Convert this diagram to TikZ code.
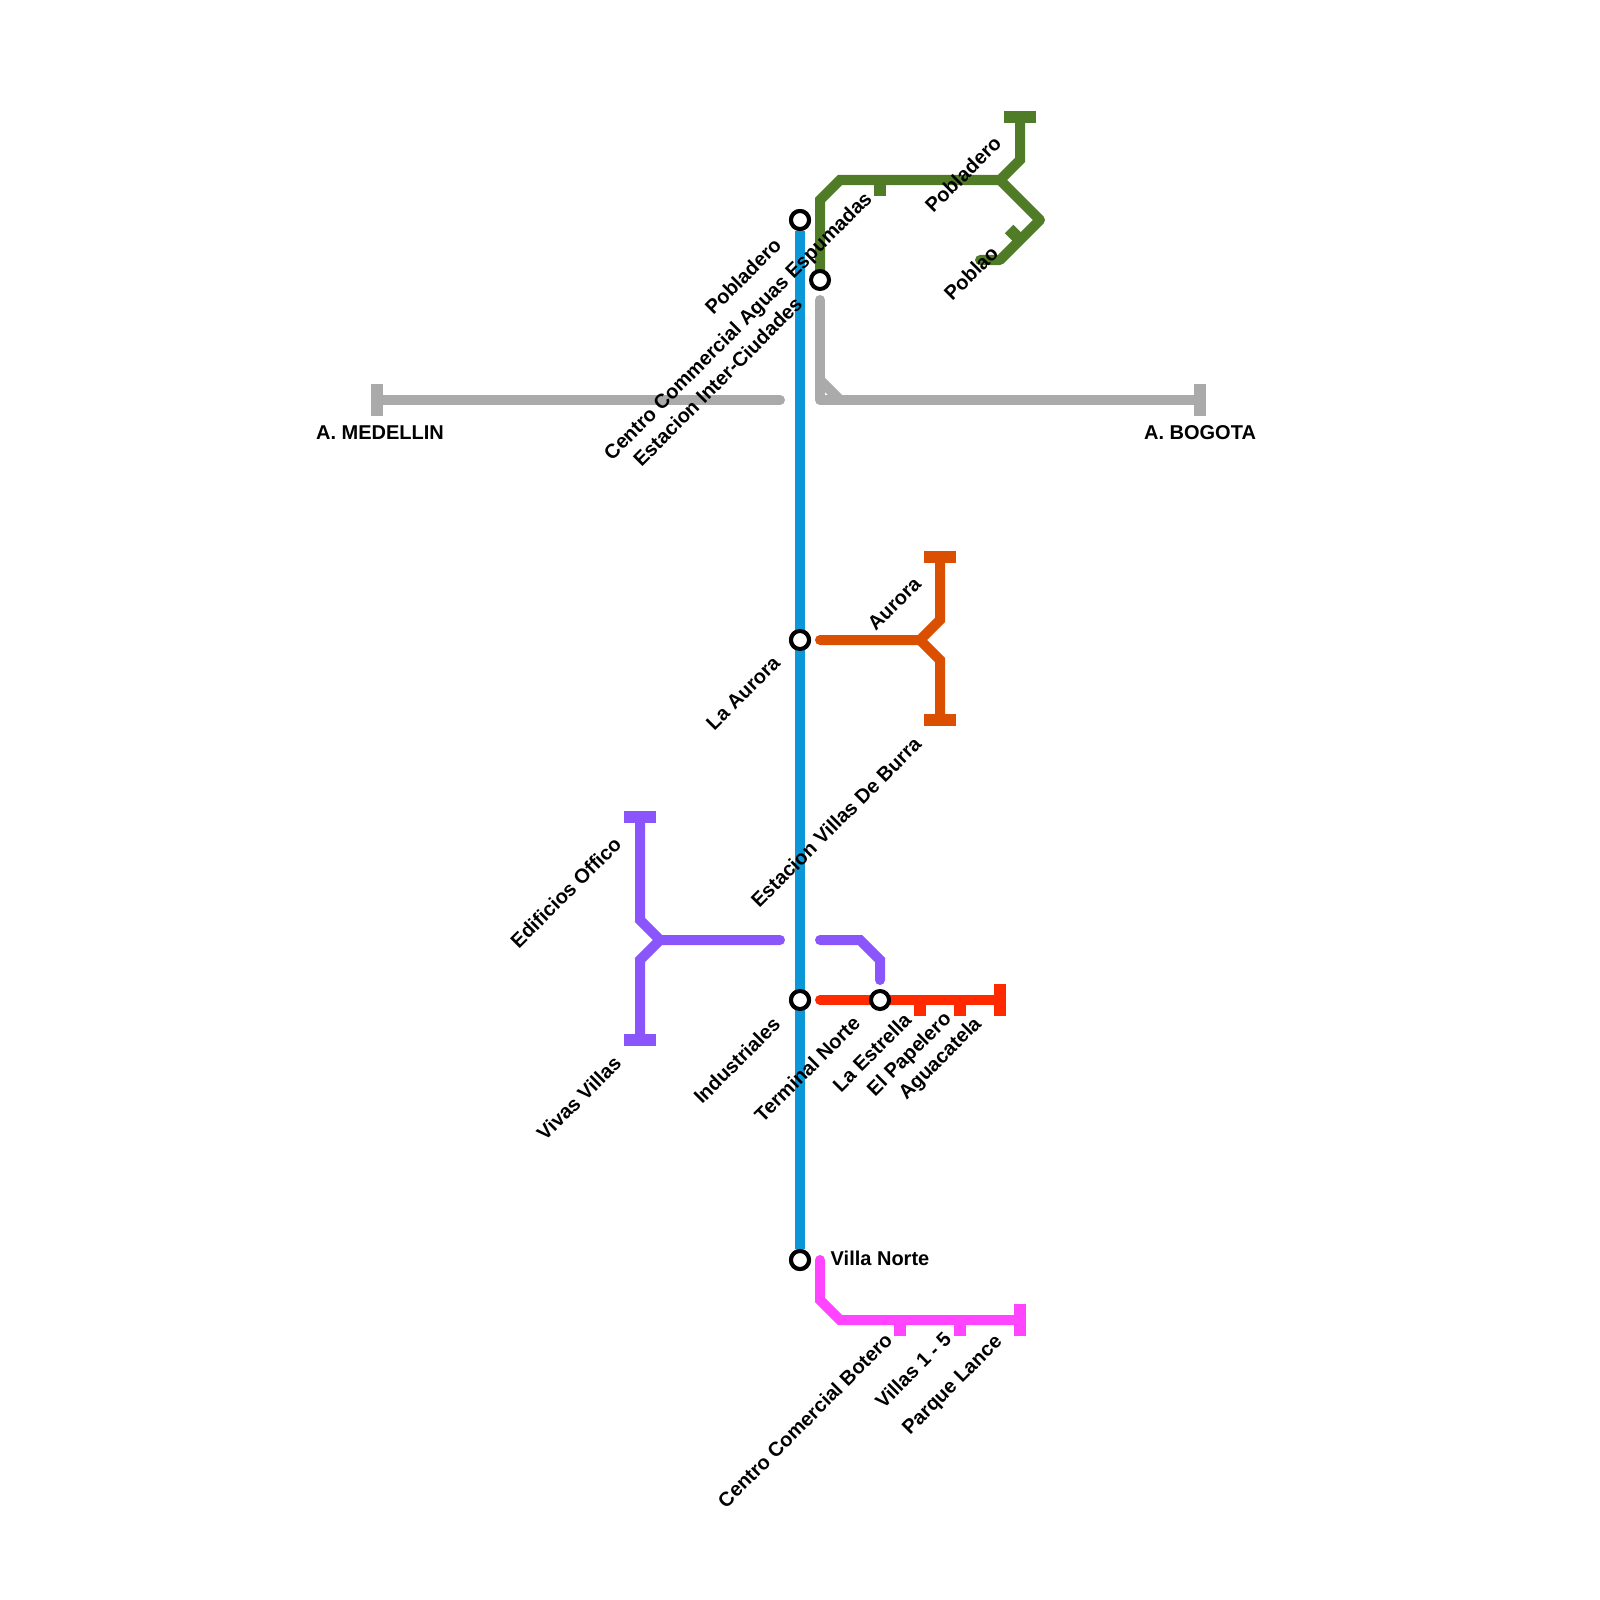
\documentclass[tikz,border=0pt]{standalone}
\usepackage{fontspec}
\setmainfont{Liberation Sans}
\definecolor{metroblue}{HTML}{0B97D8}
\definecolor{metrogray}{HTML}{AAAAAA}
\definecolor{metrogreen}{HTML}{507C28}
\definecolor{metroorange}{HTML}{DB5000}
\definecolor{metropurple}{HTML}{8A55FB}
\definecolor{metrored}{HTML}{FF2A00}
\definecolor{metropink}{HTML}{FF45FF}

\begin{document}
\begin{tikzpicture}[
  x=0.01cm, y=-0.01cm,
  route/.style={line width=0.1cm, line cap=round, line join=miter},
  endbar/.style={line width=0.12cm, line cap=butt},
  stub/.style={line width=0.12cm, line cap=butt},
  station/.style={draw=black, fill=white, circle, line width=0.04cm, minimum size=0.18cm, inner sep=0pt},
  slabel/.style={font=\fontsize{5.69}{7}\selectfont\bfseries, inner sep=0pt, anchor=east, rotate=45},
  hlabel/.style={font=\fontsize{5.69}{7}\selectfont\bfseries, inner sep=0pt}
]
\useasboundingbox (0,0) rectangle (1600,1600);

\node[station] (pobladero) at (800,220) {};
\node[station] (laaurora) at (800,640) {};
\node[station] (industriales) at (800,1000) {};
\node[station] (villanorte) at (800,1260) {};

% gray
\draw[route, metrogray] (380,400) -- (780,400);
\draw[endbar, metrogray] (377,384) -- (377,416);
\draw[route, metrogray, line join=round] (820,300) -- (820,400) -- (1200,400);
\draw[route, metrogray, line cap=butt] (820,380) -- (840,400);
\draw[endbar, metrogray] (1200,384) -- (1200,416);

% green
\draw[route, metrogreen, line cap=butt] (820,280) -- (820,200) -- (840,180) -- (1000,180) -- (1020,160) -- (1020,120);
\draw[route, metrogreen, line join=round] (1000,180) -- (1040,220) -- (1000,260) -- (980,260);
\draw[endbar, metrogreen] (1004,117) -- (1036,117);
\draw[stub, metrogreen] (880,180) -- (880,196);
\draw[stub, metrogreen] (1020,240) -- (1009,229);

% orange
\draw[route, metroorange] (820,640) -- (920,640) -- (940,620) -- (940,560);
\draw[route, metroorange] (920,640) -- (940,660) -- (940,720);
\draw[endbar, metroorange] (924,557) -- (956,557);
\draw[endbar, metroorange] (924,720) -- (956,720);

% purple
\draw[route, metropurple] (780,940) -- (660,940) -- (640,920) -- (640,820);
\draw[route, metropurple] (660,940) -- (640,960) -- (640,1040);
\draw[endbar, metropurple] (624,817) -- (656,817);
\draw[endbar, metropurple] (624,1040) -- (656,1040);
\draw[route, metropurple] (820,940) -- (860,940) -- (880,960) -- (880,980);

% red
\draw[route, metrored] (820,1000) -- (1000,1000);
\draw[stub, metrored] (920,1000) -- (920,1016);
\draw[stub, metrored] (960,1000) -- (960,1016);
\draw[endbar, metrored] (1000,984) -- (1000,1016);

% pink
\draw[route, metropink] (820,1260) -- (820,1300) -- (840,1320) -- (1020,1320);
\draw[stub, metropink] (900,1320) -- (900,1336);
\draw[stub, metropink] (960,1320) -- (960,1336);
\draw[endbar, metropink] (1020,1304) -- (1020,1336);

% main line
\draw[line width=0.1cm, metroblue] (pobladero) -- (villanorte);

\node[station] at (pobladero) {};
\node[station] at (laaurora) {};
\node[station] at (industriales) {};
\node[station] at (villanorte) {};
\node[station] (espumadas) at (820,280) {};
\node[station] (terminal) at (880,1000) {};

\node[slabel] (lblpobladero) at (778,241) {Pobladero};
\node[slabel] (lblespumadas) at (870,196) {Centro Commercial Aguas Espumadas};
\node[slabel] (lblinter) at (799,300) {Estacion Inter-Ciudades};
\node[slabel] (lblpobladerob) at (998,139) {Pobladero};
\node[slabel] (lblpoblao) at (995,249) {Poblao};
\node[slabel] (lblaurora) at (918,580) {Aurora};
\node[slabel] (lbllaaurora) at (777,659) {La Aurora};
\node[slabel] (lblburra) at (918,740) {Estacion Villas De Burra};
\node[slabel] (lbloffico) at (618,840) {Edificios Offico};
\node[slabel] (lblvivas) at (618,1059) {Vivas Villas};
\node[slabel] (lblindustriales) at (777,1020) {Industriales};
\node[slabel] (lblterminal) at (857,1019) {Terminal Norte};
\node[slabel] (lblestrella) at (908,1016) {La Estrella};
\node[slabel] (lblpapelero) at (949,1016) {El Papelero};
\node[slabel] (lblaguacatela) at (979,1021) {Aguacatela};
\node[slabel] (lblbotero) at (889,1336) {Centro Comercial Botero};
\node[slabel] (lblvillas) at (948,1335) {Villas 1 - 5};
\node[slabel] (lblparque) at (1000,1339) {Parque Lance};
\node[hlabel, anchor=west] (lblvillanorte) at (830,1258) {Villa Norte};
\node[hlabel] (lblmedellin) at (380,433) {A. MEDELLIN};
\node[hlabel] (lblbogota) at (1200,433) {A. BOGOTA};
\end{tikzpicture}
\end{document}
